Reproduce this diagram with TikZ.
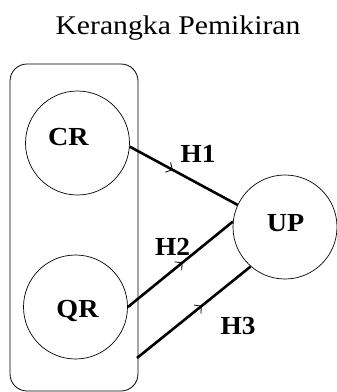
\documentclass[tikz,border=0pt]{standalone}
\usepackage{fontspec}
\usepackage{graphicx}
\setmainfont{Liberation Serif}
\usetikzlibrary{decorations.markings,arrows.meta}
\begin{document}
\begin{tikzpicture}[x=1pt,y=-1pt,
  var/.style={circle,draw,line width=0.7pt,minimum size=104pt,inner sep=0pt},
  lab/.style={font=\bfseries\fontsize{26}{26}\selectfont,anchor=base,inner sep=0pt},
  conn/.style={line width=2.6pt,postaction={decorate},
    decoration={markings,mark=at position #1 with {\arrow[line width=0.8pt]{Straight Barb[length=5pt,width=11pt]}}}}]
\useasboundingbox (0,0) rectangle (337,392);
\fill[white] (0,0) rectangle (337,392);
\node[anchor=base,inner sep=0pt,font=\fontsize{27}{27}\selectfont] (title) at (178,34) {\scalebox{1.1}[1]{Kerangka Pemikiran}};
\draw[line width=0.8pt,rounded corners=17pt] (10,64) rectangle (138,391);
\node[var] (cr) at (77.5,143) {};
\node[var] (qr) at (75.5,307) {};
\node[var] (up) at (285,227) {};
\node[lab] (crt) at (68.5,145) {\scalebox{1.08}[1]{CR}};
\node[lab] (qrt) at (77.5,317) {\scalebox{1.08}[1]{QR}};
\node[lab] (upt) at (285.5,231) {\scalebox{1.08}[1]{UP}};
\coordinate (h3s) at (137,358);
\draw[conn=0.4] (cr.-4) -- (up.155);
\draw[conn=0.52] (qr.0) -- (up.174);
\draw[conn=0.57] (h3s) -- (up.229);
\node[lab] (h1) at (198,162) {\scalebox{1.05}[1]{H1}};
\node[lab] (h2) at (172.5,255) {\scalebox{1.05}[1]{H2}};
\node[lab] (h3) at (238,334) {\scalebox{1.05}[1]{H3}};
\end{tikzpicture}
\end{document}
